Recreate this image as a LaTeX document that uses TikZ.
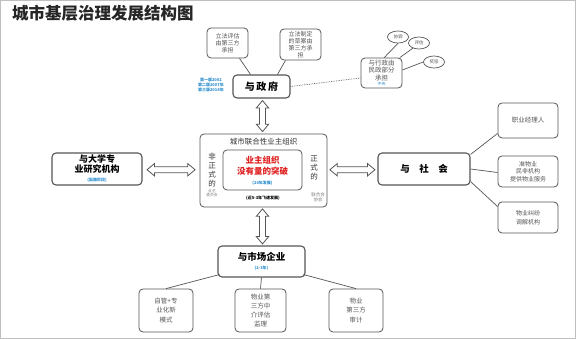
\documentclass[tikz,border=0pt]{standalone}
\usepackage{fontspec}
\setmainfont{Noto Sans CJK SC}
\usetikzlibrary{shapes.geometric,shapes.arrows,calc}
\definecolor{bord}{HTML}{555555}
\definecolor{txtg}{HTML}{555555}
\definecolor{blu}{HTML}{2E8FD0}
\definecolor{redt}{HTML}{E02020}
\tikzset{
  rbox/.style={draw=bord,line width=0.8pt,rounded corners=4pt,fill=white,inner sep=1pt,align=center},
  mainbox/.style={rbox,line width=1.1pt,font=\bfseries\fontsize{9.5}{12}\selectfont},
  graybox/.style={rbox,text=txtg,font=\fontsize{6.5}{10}\selectfont},
  ell/.style={draw=bord,line width=0.7pt,ellipse,inner sep=0pt,minimum width=21pt,minimum height=12pt,font=\fontsize{4.5}{5}\selectfont,text=txtg},
  darrow/.style={double arrow,draw=bord,line width=0.8pt,fill=white,inner sep=2.6pt,double arrow head extend=3.2pt,double arrow tip angle=80},
  conn/.style={draw=bord,line width=0.7pt},
  tinyblue/.style={text=blu,font=\bfseries\itshape\fontsize{4}{5}\selectfont,inner sep=0pt,align=center},
}
\begin{document}
\begin{tikzpicture}[x=1pt,y=-1pt]
\useasboundingbox (0,0) rectangle (576,339);
\fill[white] (0,0) rectangle (576,339);
\draw[gray!50,line width=1pt] (0.8,0.8) rectangle (575.2,338.2);
\node[anchor=west,inner sep=0pt,font=\bfseries\fontsize{16.5}{18}\selectfont,text=black!85] (title) at (12,13) {城市基层治理发展结构图};

% government cluster
\node[mainbox,minimum width=57pt,minimum height=23pt,font=\bfseries\fontsize{10}{12}\selectfont] (gov) at (261.5,86.5) {与\,政\,府};
\node[graybox,minimum width=41pt,minimum height=30pt,font=\fontsize{6}{7}\selectfont] (b1) at (227.5,43) {立法评估\\由第三方\\承担};
\node[graybox,minimum width=41pt,minimum height=31pt,font=\fontsize{6}{6.8}\selectfont] (b2) at (300.5,44.5) {立法制定\\的草案由\\第三方承\\担};
\node[tinyblue,anchor=east] (stage) at (224,84.5) {第一版2002\\第二版2007年\\第三版2014年};
\node[graybox,minimum width=41pt,minimum height=30pt,font=\fontsize{6.5}{7.5}\selectfont] (rb) at (381.5,73) {与行政由\\民政部分\\承担\\[-2pt]{\color{blu}\fontsize{4}{4}\selectfont 中央}};
\node[ell] (e1) at (398,37) {协调};
\node[ell] (e2) at (419,43) {评估};
\node[ell] (e3) at (434,62) {奖惩};
\draw[conn] ([xshift=12pt]b1.south) -- ([xshift=-11pt]gov.north);
\draw[conn] ([xshift=-15pt]b2.south) -- ([xshift=16pt]gov.north);
\draw[conn,densely dotted] (gov.east) -- ([yshift=-5pt]rb.west);
\draw[conn] (rb.80) -- (e1.south);
\draw[conn] (rb.40) -- (e2.220);
\draw[conn] ([yshift=3pt]rb.east) -- (e3.west);

% central organisation
\node[rbox,minimum width=127pt,minimum height=73pt,line width=0.8pt] (cb) at (263.5,170.5) {};
\node[inner sep=0pt,font=\fontsize{7.5}{9}\selectfont,text=black!80] (cbt) at (263.5,142) {城市联合性业主组织};
\node[rbox,minimum width=79pt,minimum height=40pt] (ib) at (262.5,170) {};
\node[inner sep=0pt,align=center,text=redt,font=\bfseries\fontsize{8.5}{11.5}\selectfont] (red) at (262.5,166) {业主组织\\没有量的突破};
\node[tinyblue] (y20) at (262.5,183) {(20年发展)};
\node[inner sep=0pt,align=center,font=\fontsize{7.5}{8.8}\selectfont,text=black!80] (inf) at (212,170) {非\\正\\式\\的};
\node[inner sep=0pt,align=center,font=\fontsize{7.5}{8.8}\selectfont,text=black!80] (frm) at (314,168) {正\\式\\的};
\node[inner sep=0pt,align=center,font=\fontsize{3.8}{4.5}\selectfont,text=gray] (infs) at (212,193) {业主\\委员会};
\node[inner sep=0pt,align=center,font=\fontsize{4.5}{5}\selectfont,text=gray] (frms) at (318,197) {联合会\\协会};
\node[inner sep=0pt,font=\bfseries\itshape\fontsize{4}{5}\selectfont] (fast) at (263,198) {(近5-3年飞速发展)};

% university
\node[mainbox,minimum width=90pt,minimum height=32pt,font=\bfseries\fontsize{9}{12}\selectfont] (uni) at (97,169) {与大学专\\[-2pt]业研究机构\\[-3pt]{\color{blu}\itshape\fontsize{4}{4}\selectfont (酝酿阶段)}};

% society
\node[mainbox,minimum width=92pt,minimum height=32pt] (soc) at (424,169) {与\quad 社\quad 会};
\node[graybox,minimum width=60pt,minimum height=35pt] (s1) at (528,120.5) {职业经理人};
\node[graybox,minimum width=60pt,minimum height=31pt,font=\fontsize{6}{7.5}\selectfont] (s2) at (528,171.5) {准物业\\民非机构\\提供物业服务};
\node[graybox,minimum width=60pt,minimum height=31pt,font=\fontsize{6}{8.5}\selectfont] (s3) at (528,217.5) {物业纠纷\\调解机构};
\draw[conn] ([yshift=-2pt]soc.north east) -- ([yshift=5pt]s1.south west);
\draw[conn] (soc.east) -- ([yshift=-1pt]s2.west);
\draw[conn] ([yshift=4pt]soc.south east) -- ([yshift=-5pt]s3.north west);

% market
\node[mainbox,minimum width=87pt,minimum height=31pt] (mkt) at (261.5,261.5) {与市场企业\\[-3pt]{\color{blu}\itshape\fontsize{4}{4}\selectfont (2-3年)}};
\node[graybox,minimum width=54pt,minimum height=43pt,font=\fontsize{6.5}{9.5}\selectfont] (m1) at (166,310.5) {自管+专\\业化新\\模式};
\node[graybox,minimum width=51pt,minimum height=43pt,font=\fontsize{6.5}{8.8}\selectfont] (m2) at (260.5,310.5) {物业第\\三方中\\介评估\\监理};
\node[graybox,minimum width=54pt,minimum height=43pt,font=\fontsize{6.5}{9.5}\selectfont] (m3) at (356,310.5) {物业\\第三方\\审计};
\draw[conn] ([xshift=2pt,yshift=3pt]mkt.south west) -- (m1.north);
\draw[conn] (mkt.south) -- (m2.north);
\draw[conn] ([xshift=-2pt,yshift=3pt]mkt.south east) -- (m3.north);

% double arrows
\path (gov.south) -- (cb.north) node[midway,darrow,rotate=90,minimum height=31pt,minimum width=12pt] (a1) {};
\path (cb.south) -- (mkt.north) node[midway,darrow,rotate=90,minimum height=35pt,minimum width=12pt] (a2) {};
\path (uni.east) -- (cb.west) node[midway,darrow,minimum height=48pt,minimum width=12pt] (a3) {};
\path (cb.east) -- (soc.west) node[midway,darrow,minimum height=45pt,minimum width=12pt] (a4) {};
\end{tikzpicture}
\end{document}
